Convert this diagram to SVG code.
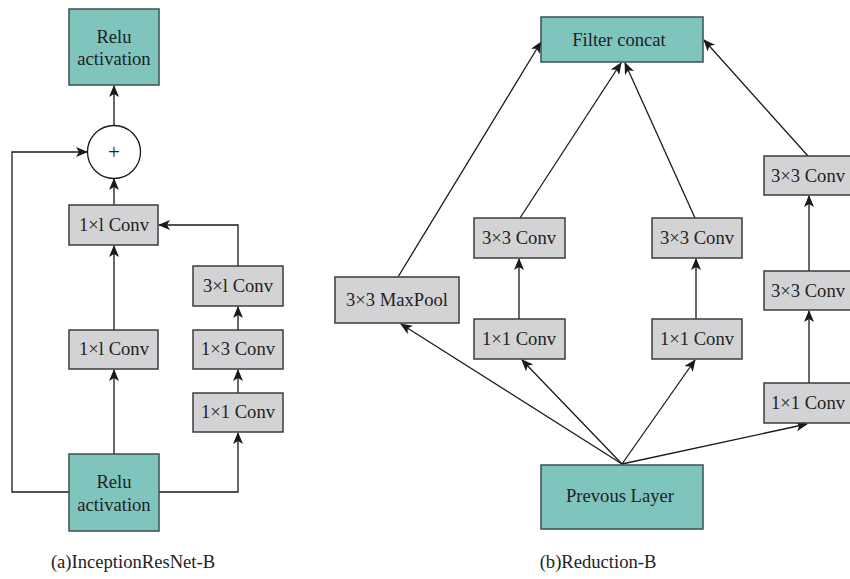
<svg xmlns="http://www.w3.org/2000/svg" width="850" height="579" viewBox="0 0 850 579">
<defs>
<marker id="ah" viewBox="0 0 12 10" refX="11" refY="5" markerWidth="12" markerHeight="10" markerUnits="userSpaceOnUse" orient="auto">
<path d="M0,0 L12,5 L0,10 L3,5 z" fill="#1a1a1a"/>
</marker>
<style>
.teal{fill:#7fc5be;stroke:#3b4f4d;stroke-width:1.5}
.gray{fill:#d3d3d5;stroke:#3c3c3c;stroke-width:1.5}
.t{font-family:"Liberation Serif","Times New Roman",serif;font-size:18.6px;fill:#222;text-anchor:middle}
.c{fill:none;stroke:#1a1a1a;stroke-width:1.3}
.a{fill:none;stroke:#1a1a1a;stroke-width:1.3;marker-end:url(#ah)}
</style>
</defs>
<rect width="850" height="579" fill="#fff"/>
<g id="connectors">
<line class="a" x1="114" y1="125" x2="114" y2="86"/>
<line class="a" x1="114" y1="205" x2="114" y2="179"/>
<line class="a" x1="114" y1="330" x2="114" y2="246"/>
<line class="a" x1="114" y1="454" x2="114" y2="370"/>
<polyline class="a" points="69,492 12,492 12,152 87,152"/>
<polyline class="a" points="159,492 238,492 238,433"/>
<line class="a" x1="238" y1="393" x2="238" y2="370"/>
<line class="a" x1="238" y1="330" x2="238" y2="307"/>
<polyline class="a" points="238,266 238,225 159,225"/>
<line class="a" x1="622" y1="464" x2="401" y2="324"/>
<line class="a" x1="622" y1="464" x2="522" y2="360"/>
<line class="a" x1="622" y1="464" x2="695" y2="360"/>
<line class="a" x1="622" y1="464" x2="807" y2="424"/>
<line class="a" x1="519" y1="319" x2="519" y2="259"/>
<line class="a" x1="696" y1="319" x2="696" y2="259"/>
<line class="a" x1="809" y1="383" x2="809" y2="311"/>
<line class="a" x1="809" y1="271" x2="809" y2="196"/>
<line class="a" x1="398" y1="277" x2="541" y2="42"/>
<line class="a" x1="520" y1="218" x2="621" y2="63"/>
<line class="a" x1="695" y1="218" x2="625" y2="63"/>
<line class="a" x1="808" y1="156" x2="704" y2="40"/>
</g>
<g id="relu-top"><rect class="teal" x="69" y="9" width="90" height="76"/><text class="t" x="114" y="43">Relu</text><text class="t" x="114" y="65">activation</text></g>
<g id="add"><circle cx="114" cy="152" r="26.5" fill="#fff" stroke="#1a1a1a" stroke-width="1.3"/><text class="t" x="114" y="159" style="font-size:21px">+</text></g>
<g id="conv-a1"><rect class="gray" x="69" y="205" width="89" height="40"/><text class="t" x="114" y="231">1×l Conv</text></g>
<g id="conv-a2"><rect class="gray" x="69" y="330" width="89" height="39"/><text class="t" x="114" y="355">1×l Conv</text></g>
<g id="relu-bottom"><rect class="teal" x="69" y="454" width="90" height="77"/><text class="t" x="114" y="488">Relu</text><text class="t" x="114" y="511">activation</text></g>
<g id="conv-a3"><rect class="gray" x="193" y="266" width="90" height="40"/><text class="t" x="238" y="292">3×l Conv</text></g>
<g id="conv-a4"><rect class="gray" x="193" y="330" width="90" height="39"/><text class="t" x="238" y="355">1×3 Conv</text></g>
<g id="conv-a5"><rect class="gray" x="193" y="393" width="90" height="39"/><text class="t" x="238" y="418">1×1 Conv</text></g>
<g id="caption-a"><text class="t" x="133" y="568">(a)InceptionResNet-B</text></g>
<g id="filter-concat"><rect class="teal" x="541" y="17" width="162" height="45"/><text class="t" x="619" y="46">Filter concat</text></g>
<g id="maxpool"><rect class="gray" x="335" y="277" width="124" height="46"/><text class="t" x="397" y="306">3×3 MaxPool</text></g>
<g id="conv-b1"><rect class="gray" x="474" y="218" width="91" height="40"/><text class="t" x="519" y="244">3×3 Conv</text></g>
<g id="conv-b2"><rect class="gray" x="474" y="319" width="91" height="40"/><text class="t" x="519" y="345">1×1 Conv</text></g>
<g id="conv-b3"><rect class="gray" x="652" y="218" width="90" height="40"/><text class="t" x="697" y="244">3×3 Conv</text></g>
<g id="conv-b4"><rect class="gray" x="652" y="319" width="90" height="40"/><text class="t" x="697" y="345">1×1 Conv</text></g>
<g id="conv-b5"><rect class="gray" x="764" y="156" width="92" height="39"/><text class="t" x="808" y="182">3×3 Conv</text></g>
<g id="conv-b6"><rect class="gray" x="764" y="271" width="92" height="39"/><text class="t" x="808" y="297">3×3 Conv</text></g>
<g id="conv-b7"><rect class="gray" x="764" y="383" width="92" height="40"/><text class="t" x="808" y="409">1×1 Conv</text></g>
<g id="previous-layer"><rect class="teal" x="541" y="465" width="162" height="64"/><text class="t" x="620" y="502">Prevous Layer</text></g>
<g id="caption-b"><text class="t" x="598" y="568">(b)Reduction-B</text></g>
</svg>
